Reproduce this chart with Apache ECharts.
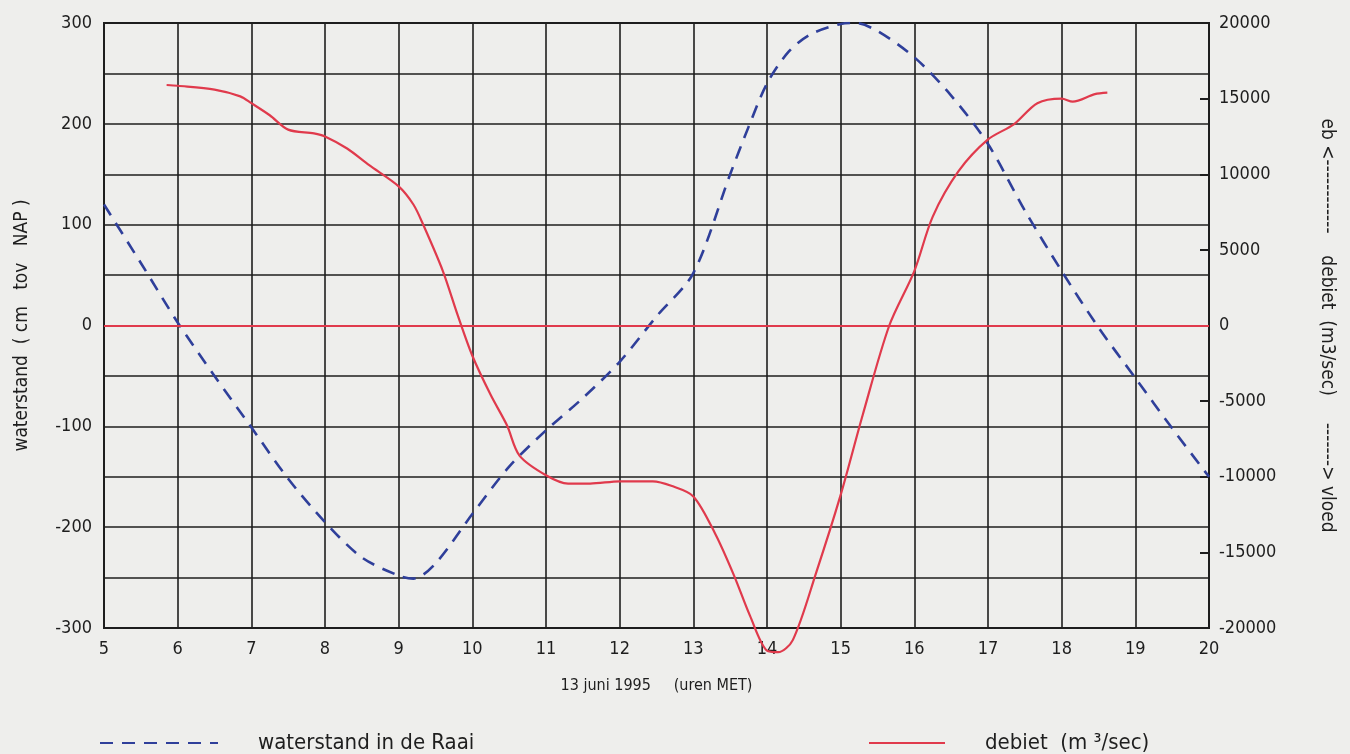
<!DOCTYPE html>
<html>
<head>
<meta charset="utf-8">
<script src="https://cdn.jsdelivr.net/npm/echarts@6/dist/echarts.min.js"></script>
<style>
  html, body { margin: 0; padding: 0; background: #eeeeec; }
  #chart { width: 1350px; height: 754px; }
</style>
</head>
<body>
<div id="chart"></div>
<script>
// waterstand in de Raai (cm tov NAP), hours on 13 juni 1995
const waterHours = [5, 5.5, 6, 6.5, 7, 7.5, 8, 8.5, 9, 9.2, 9.5, 10, 10.5, 11, 11.5, 12, 12.5, 13, 13.5, 13.75, 14, 14.3, 14.6, 15, 15.2, 15.5, 16, 16.5, 17, 17.5, 18, 18.5, 19, 19.5, 20];
const waterValues = [120, 62, 3, -50, -101, -152, -195, -230, -248, -251, -236, -187, -140, -104, -72, -36, 9, 52, 150, 197, 240, 272, 289, 299, 300, 292, 266, 228, 180, 114, 54, -2, -52, -102, -150];

// debiet (m3/sec)
const flowHours = [5.85, 6, 6.5, 6.85, 7, 7.25, 7.5, 7.85, 8, 8.3, 8.6, 9, 9.2, 9.33, 9.6, 9.8, 10, 10.25, 10.47, 10.64, 11, 11.3, 11.6, 12, 12.45, 12.7, 13, 13.3, 13.55, 13.77, 14, 14.15, 14.35, 14.67, 15, 15.3, 15.66, 16, 16.25, 16.6, 17, 17.35, 17.67, 18, 18.15, 18.45, 18.62];
const flowValues = [15900, 15850, 15600, 15150, 14700, 13900, 12950, 12700, 12500, 11700, 10600, 9200, 8000, 6700, 3600, 700, -2000, -4600, -6600, -8600, -9900, -10450, -10450, -10300, -10300, -10600, -11300, -13800, -16500, -19200, -21500, -21600, -20800, -16300, -11200, -5900, 0, 3600, 7200, 10200, 12300, 13300, 14700, 15000, 14800, 15300, 15400];

const xTicks = [5, 20, 1];
const leftTicks = [-300, 300, 50];
const rightTicks = [-20000, 20000, 5000];

const names = {
  water: 'waterstand in de Raai',
  flow: 'debiet  (m \u00B3/sec)',
  xName: '13 juni 1995     (uren MET)',
  leftName: 'waterstand  ( cm   tov   NAP )',
  rightName: 'eb <------------    debiet  (m3/sec)     -------> vloed'
};

const FONT = "'DejaVu Sans Condensed', 'Liberation Sans Narrow', sans-serif";
const INK = '#1e1e1e';
const BLUE = '#2f3f9a';
const RED = '#e03a4c';

const chart = echarts.init(document.getElementById('chart'));
chart.setOption({
  backgroundColor: '#eeeeec',
  animation: false,
  textStyle: { fontFamily: FONT, color: INK },
  grid: {
    left: 104, right: 141, top: 23, bottom: 126,
    show: true, borderColor: INK, borderWidth: 2, backgroundColor: 'transparent'
  },
  legend: [
    {
      data: [names.water], left: 94, top: 727, itemWidth: 118, itemHeight: 14,
      itemGap: 0, itemStyle: { opacity: 0 },
      textStyle: { fontSize: 22, color: INK, fontFamily: FONT, padding: [0, 0, 0, 35] }
    },
    {
      data: [names.flow], left: 863, top: 727, itemWidth: 76, itemHeight: 14,
      itemGap: 0, itemStyle: { opacity: 0 },
      textStyle: { fontSize: 22, color: INK, fontFamily: FONT, padding: [0, 0, 0, 35] }
    }
  ],
  xAxis: {
    type: 'value', min: xTicks[0], max: xTicks[1], interval: xTicks[2],
    name: names.xName, nameLocation: 'middle', nameGap: 50,
    nameTextStyle: { fontSize: 16, color: INK, fontFamily: FONT },
    axisLine: { show: false }, axisTick: { show: false },
    axisLabel: { fontSize: 18, color: INK, margin: 12, fontFamily: FONT },
    splitLine: { show: true, lineStyle: { color: INK, width: 1.6 } }
  },
  yAxis: [
    {
      type: 'value', min: leftTicks[0], max: leftTicks[1], interval: leftTicks[2],
      name: names.leftName, nameLocation: 'middle', nameGap: 72, nameRotate: 90,
      nameTextStyle: { fontSize: 19, color: INK, fontFamily: FONT },
      axisLine: { show: false }, axisTick: { show: false },
      axisLabel: { fontSize: 18, color: INK, margin: 12, fontFamily: FONT,
        formatter: v => (v % 100 === 0 ? String(v) : '') },
      splitLine: { show: true, lineStyle: { color: INK, width: 1.6 } }
    },
    {
      type: 'value', position: 'right', min: rightTicks[0], max: rightTicks[1], interval: rightTicks[2],
      name: names.rightName, nameLocation: 'middle', nameGap: 108, nameRotate: -90,
      nameTextStyle: { fontSize: 19, color: INK, fontFamily: FONT },
      axisLine: { show: false },
      axisTick: { show: true, inside: true, length: 9, lineStyle: { color: INK, width: 2 } },
      axisLabel: { fontSize: 18, color: INK, margin: 10, fontFamily: FONT,
        formatter: v => String(v) },
      splitLine: { show: false }
    }
  ],
  series: [
    {
      name: names.water, type: 'line', yAxisIndex: 0,
      data: waterHours.map((h, i) => [h, waterValues[i]]),
      showSymbol: false, symbol: 'none', smooth: 0.3,
      lineStyle: { color: BLUE, width: 2.6, type: [13, 9] },
      itemStyle: { color: BLUE }
    },
    {
      name: names.flow, type: 'line', yAxisIndex: 1, clip: false,
      data: flowHours.map((h, i) => [h, flowValues[i]]),
      showSymbol: false, symbol: 'none', smooth: 0.3,
      lineStyle: { color: RED, width: 2.2 },
      itemStyle: { color: RED },
      markLine: {
        silent: true, symbol: 'none', label: { show: false },
        lineStyle: { color: RED, type: 'solid', width: 1.8 },
        data: [{ yAxis: 0 }]
      }
    }
  ]
});
</script>
</body>
</html>
